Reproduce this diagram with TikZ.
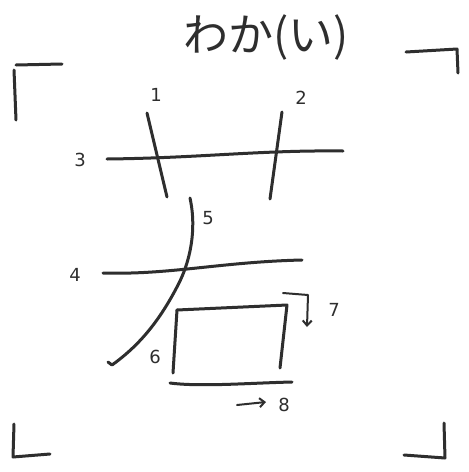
\documentclass[tikz,border=0pt]{standalone}
\usepackage{fontspec}
\newfontfamily\jp{Noto Sans CJK JP}
\newfontfamily\numfont{DejaVu Sans}
\usetikzlibrary{arrows.meta}
\definecolor{ink}{HTML}{2E2E2E}
\begin{document}
\begin{tikzpicture}[x=1pt,y=-1pt,
  stroke/.style={line width=3pt, draw=ink, line cap=round, line join=round},
  thinstroke/.style={line width=2pt, draw=ink, line cap=round, line join=round},
  num/.style={font=\numfont\fontsize{18}{18}\selectfont, text=ink, inner sep=0pt}]
\useasboundingbox[fill=white] (0,0) rectangle (469,472);
% title
\node[font=\jp\fontsize{45}{45}\selectfont, text=ink, inner sep=0pt] (title) at (266,38) {わか(い)};
% corner brackets
\draw[stroke] (16,120) -- (14,70);
\draw[stroke] (16,65) -- (62,64);
\draw[stroke] (406,52) -- (457,49) -- (458,73);
\draw[stroke] (14,424) -- (13,457) -- (50,454);
\draw[stroke] (444,423) -- (445,458) -- (404,455);
% strokes
\coordinate (s1a) at (147,113); \coordinate (s1b) at (167,197);
\coordinate (s2a) at (282,112); \coordinate (s2b) at (270,199);
\coordinate (s3a) at (107,159); \coordinate (s3b) at (343,151);
\draw[stroke] (s1a) -- (s1b);
\draw[stroke] (s2a) -- (s2b);
\draw[stroke] (s3a) .. controls (200,158) and (260,150) .. (s3b);
\coordinate (s4a) at (103,273); \coordinate (s4b) at (302,260);
\draw[stroke] (s4a) .. controls (170,275) and (220,262) .. (s4b);
\coordinate (s5a) at (190,198); \coordinate (s5b) at (112,365);
\draw[stroke] (s5a) .. controls (197,230) and (190,262) .. (178,285)
  .. controls (160,320) and (140,345) .. (s5b) -- (108,362);
\coordinate (b1) at (177,310); \coordinate (b2) at (287,305);
\coordinate (b3) at (280,368); \coordinate (b4) at (173,373);
\draw[stroke] (b1) -- (b4);
\draw[stroke] (b1) -- (b2) -- (b3);
\coordinate (s8a) at (170,383); \coordinate (s8b) at (292,382);
\draw[stroke] (s8a) .. controls (200,387) and (250,383) .. (s8b);
% stroke-direction arrows
\coordinate (a7a) at (283,293); \coordinate (a7b) at (308,295); \coordinate (a7c) at (307,327);
\draw[thinstroke, -{Straight Barb[length=5pt,width=9pt]}] (a7a) -- (a7b) -- (a7c);
\coordinate (a8a) at (237,405); \coordinate (a8b) at (266,402);
\draw[thinstroke, -{Straight Barb[length=5pt,width=9pt]}] (a8a) -- (a8b);
% numbers
\node[num] (n1) at (156,95) {1};
\node[num] (n2) at (301,98) {2};
\node[num] (n3) at (80,160) {3};
\node[num] (n4) at (75,275) {4};
\node[num] (n5) at (208,218) {5};
\node[num] (n6) at (155,357) {6};
\node[num] (n7) at (334,310) {7};
\node[num] (n8) at (284,405) {8};
\end{tikzpicture}
\end{document}
